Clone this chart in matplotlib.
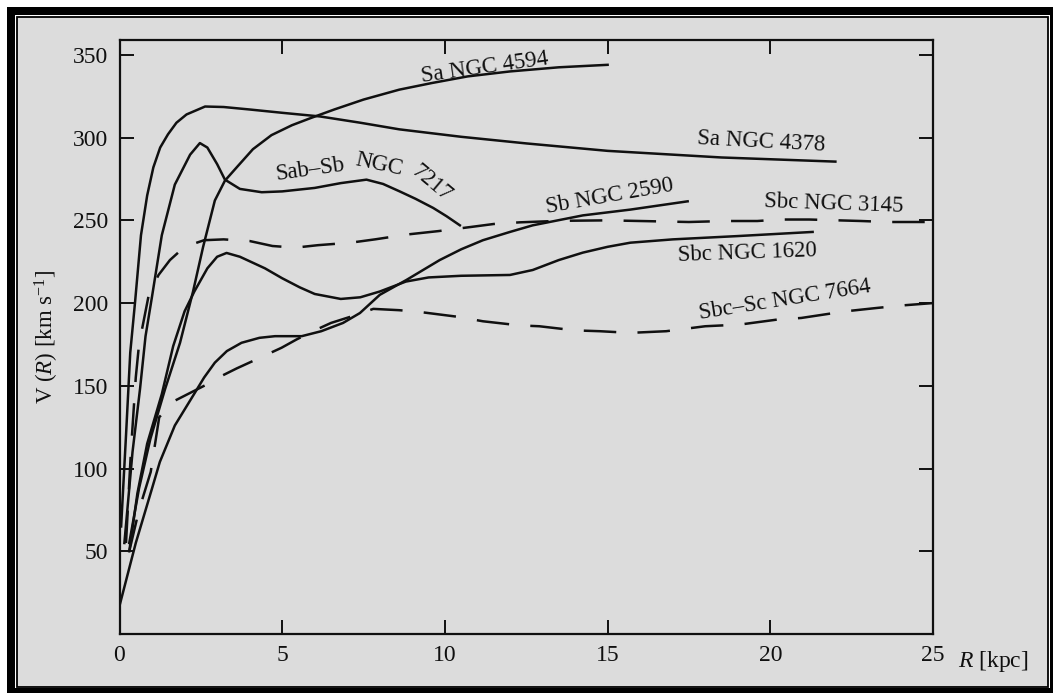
import matplotlib
matplotlib.use("Agg")
import matplotlib.pyplot as plt
from matplotlib.patches import Rectangle

plt.rcParams['font.family'] = ['Liberation Serif', 'DejaVu Serif']
plt.rcParams['mathtext.fontset'] = 'custom'
plt.rcParams['mathtext.rm'] = 'Liberation Serif'
plt.rcParams['mathtext.it'] = 'Liberation Serif:italic'

# ---- data (R in kpc, V in km/s) ----
r_4594 = [0.3, 0.6, 0.95, 1.4, 1.86, 2.26, 2.57, 2.93, 3.24, 3.6, 4.1, 4.67, 5.3, 5.9, 6.6, 7.5, 8.6, 9.6, 10.7, 12.0, 13.5, 15.0]
v_4594 = [55, 88, 118, 148, 176, 207, 234, 262, 274, 282, 293, 301.5, 307.5, 312, 317, 323, 329, 333, 337, 340, 342.5, 344]

r_4378 = [0.05, 0.2, 0.33, 0.48, 0.66, 0.85, 1.04, 1.25, 1.49, 1.75, 2.06, 2.63, 3.2, 4.0, 5.0, 6.16, 7.4, 8.6, 10.5, 12.5, 15.0, 18.5, 22.0]
v_4378 = [65, 120, 170, 201, 241, 265, 282, 294, 302, 309, 314, 318.8, 318.5, 317, 315, 312.8, 309, 305, 300.5, 296.5, 292, 288, 285.5]

r_7217 = [0.15, 0.4, 0.63, 0.8, 1.0, 1.3, 1.7, 2.17, 2.47, 2.7, 3.0, 3.24, 3.7, 4.37, 5.0, 6.0, 6.8, 7.59, 8.1, 8.61, 9.1, 9.64, 10.05, 10.46]
v_7217 = [55, 110, 148, 180, 204, 241, 271.6, 289.7, 296.7, 294, 284, 274.6, 269, 267, 267.5, 269.6, 272.5, 274.6, 272, 267.5, 263, 257.5, 252.5, 247]

r_2590 = [0.0, 0.5, 1.0, 1.24, 1.7, 2.26, 2.6, 2.93, 3.3, 3.75, 4.3, 4.78, 5.6, 6.2, 6.87, 7.39, 8.0, 8.82, 9.84, 10.5, 11.17, 12.0, 12.7, 14.24, 15.7, 17.46]
v_2590 = [17, 55, 88, 104, 126, 144, 155, 164, 171, 176, 179, 180, 180, 183, 188, 194, 205, 214, 226, 232.5, 238, 243, 247, 253, 256.5, 261.5]

r_1620 = [0.3, 0.55, 0.85, 1.3, 1.65, 2.0, 2.3, 2.7, 3.0, 3.29, 3.7, 4.47, 5.0, 5.54, 6.0, 6.8, 7.4, 8.0, 8.8, 9.5, 10.5, 12.0, 12.7, 13.5, 14.24, 15.0, 15.7, 17.0, 19.0, 21.3]
v_1620 = [50, 85, 115, 145, 174, 195, 207, 221, 228, 230.3, 228, 221, 215, 209.5, 205.5, 202.5, 203.5, 207, 213, 215.5, 216.5, 217, 220, 226, 230.5, 234, 236.5, 238.5, 240.5, 243]

r_3145 = [0.2, 0.35, 0.5, 0.6, 0.75, 0.9, 1.2, 1.55, 2.0, 2.6, 3.2, 4.0, 4.7, 5.4, 6.1, 7.1, 7.85, 8.86, 9.8, 10.8, 11.5, 12.3, 13.5, 15.0, 16.5, 17.5, 18.6, 19.6, 20.3, 21.2, 22.8, 23.6, 24.6, 25.0]
v_3145 = [55, 110, 155, 175, 190, 205, 217, 226, 234, 238, 238.5, 237.5, 234.5, 233.5, 235, 236.5, 238.5, 241.5, 243.5, 246, 247.8, 248.8, 249.7, 250, 249.4, 249, 249.6, 249.6, 250.5, 250.5, 249.6, 249, 249, 249]

r_7664 = [0.3, 0.6, 0.96, 1.22, 1.5, 1.7, 2.2, 2.7, 3.14, 3.6, 4.1, 4.98, 5.44, 6.0, 6.5, 7.3, 7.8, 8.6, 9.28, 10.4, 11.17, 12.3, 12.9, 14.0, 14.76, 15.7, 16.8, 18.0, 19.06, 20.2, 20.95, 22.3, 23.25, 24.0, 25.0]
v_7664 = [50, 75, 98, 131, 137, 141, 146, 151, 156, 160.5, 165, 173, 178, 183.5, 188, 193, 196.5, 195.7, 194.5, 191.7, 189, 186.5, 186, 183.5, 183, 182, 183, 186, 187, 190, 191, 195, 197, 198.5, 200]

x_ticks = [0, 5, 10, 15, 20, 25]
y_ticks = [50, 100, 150, 200, 250, 300, 350]

W, H = 1053, 693
fig = plt.figure(figsize=(W / 100, H / 100), dpi=100)
fig.patch.set_facecolor('white')

def px_rect(x0, y0, x1, y1, **kw):
    return Rectangle((x0 / W, 1 - y1 / H), (x1 - x0) / W, (y1 - y0) / H,
                     transform=fig.transFigure, zorder=-10, **kw)

BG = '#dcdcdc'
fig.patches.append(px_rect(7, 7, 1053, 693, facecolor='black', edgecolor='none'))
fig.patches.append(px_rect(15, 15, 1050, 688, facecolor='white', edgecolor='none'))
fig.patches.append(px_rect(17, 17, 1048, 687, facecolor=BG, edgecolor='black', linewidth=1.3))

L, R_, T, B = 119.5, 933, 40, 634
ax = fig.add_axes([L / W, 1 - B / H, (R_ - L) / W, (B - T) / H])
ax.set_zorder(5)
ax.set_facecolor(BG)
ax.set_xlim(0, 25)
ax.set_ylim(0, 359)

lc = '#101010'
lw = 1.8
dash = (0, (13, 8.5))
ax.plot(r_4594, v_4594, color=lc, lw=lw)
ax.plot(r_4378, v_4378, color=lc, lw=lw)
ax.plot(r_7217, v_7217, color=lc, lw=lw)
ax.plot(r_2590, v_2590, color=lc, lw=lw)
ax.plot(r_1620, v_1620, color=lc, lw=lw)
ax.plot(r_3145, v_3145, color=lc, lw=lw, linestyle=dash)
ax.plot(r_7664, v_7664, color=lc, lw=lw, linestyle=dash)

fs = 16.5
def lab(x, y, s, rot):
    ax.text(x, y, s, fontsize=fs, rotation=rot, rotation_mode='anchor',
            ha='center', va='center', color=lc)

lab(11.23, 342.2, 'Sa NGC 4594', 8)
lab(19.73, 297.5, 'Sa NGC 4378', -3)
lab(15.07, 264.3, 'Sb NGC 2590', 10)
lab(21.94, 260.1, 'Sbc NGC 3145', -2)
lab(19.30, 230.5, 'Sbc NGC 1620', 2)
lab(20.44, 201.6, 'Sbc\u2013Sc NGC 7664', 9)
lab(5.85, 280.6, 'Sab\u2013Sb', 8)
lab(7.98, 283.8, 'NGC', -12)
lab(9.58, 272.5, '7217', -40)

ax.set_xticks(x_ticks)
ax.set_yticks(y_ticks)
ax.tick_params(direction='in', length=10, width=1.4, top=True, right=True,
               labelsize=17, colors=lc)
ax.tick_params(axis='x', pad=8)
ax.tick_params(axis='y', pad=8)
for sp in ax.spines.values():
    sp.set_linewidth(1.6)
    sp.set_color(lc)

ax.set_ylabel(r'V $(R)$ [km s$^{-1}$]', fontsize=fs, color=lc, labelpad=9)
fig.text(958 / W, 1 - 667 / H, r'$R$ [kpc]', fontsize=17, color=lc,
         ha='left', va='baseline')

fig.savefig('out.png', dpi=100, facecolor=fig.get_facecolor())
